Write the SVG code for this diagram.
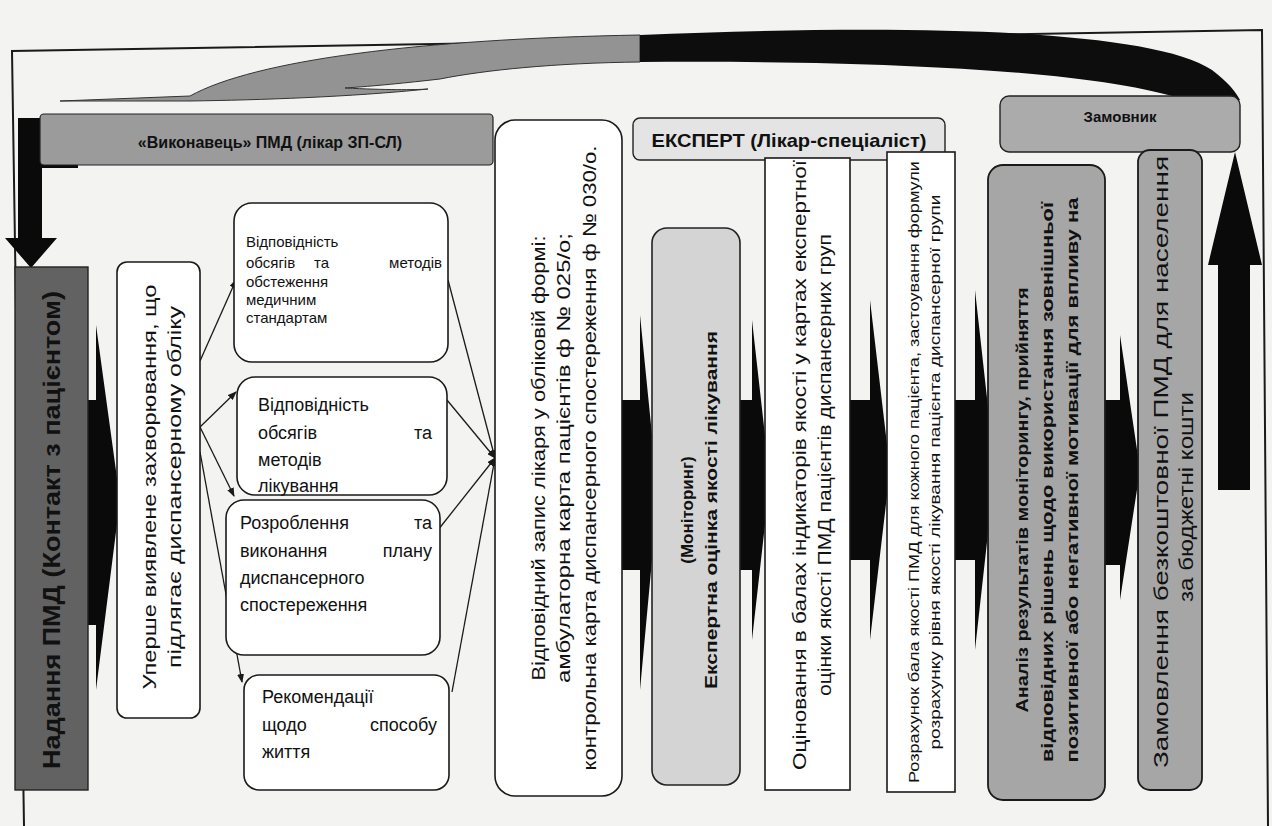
<svg xmlns="http://www.w3.org/2000/svg" width="1272" height="826" viewBox="0 0 1272 826">
<defs>
<style>
.t{font-family:"Liberation Sans",Arial,sans-serif;fill:#111}
.b{font-weight:bold}
.box{fill:#fff;stroke:#1a1a1a;stroke-width:1.6}
.gbox{fill:#a6a6a6;stroke:#1a1a1a;stroke-width:1.8}
.arr{fill:#0a0a0a}
.ln{stroke:#1a1a1a;stroke-width:1.3;fill:none;marker-end:url(#ah)}
</style>
<marker id="ah" markerWidth="9" markerHeight="7" refX="8" refY="3.5" orient="auto" markerUnits="userSpaceOnUse"><path d="M0,0 L9,3.5 L0,7 Z" fill="#1a1a1a"/></marker>
</defs>
<rect width="1272" height="826" fill="#f3f3f1"/>
<polyline points="24,826 12,51 1262,30 1268,826" fill="none" stroke="#1a1a1a" stroke-width="2"/>

<g id="top-swoosh">
<path d="M60,101 L190,96 C255,60 420,39 640,35 L640,62 C555,63 485,70 440,79 C405,83 375,86 345,88 C385,90 415,90 428,89 C350,97 260,100 190,101 Z" fill="#939393" stroke="#333" stroke-width="1"/>
<path d="M640,35 C900,24 1150,28 1212,70 C1228,82 1236,92 1240,100 L1185,100 C1100,72 900,60 640,62 Z" fill="#0d0d0d"/>
</g>

<g id="connectors">
<path class="arr" d="M18,118 L78,118 L78,168 L42,168 L42,238 L57,238 L31,268 L5,238 L18,238 Z"/>
<path class="arr" d="M88,400 L96,400 L96,325 L120,500 L96,690 L96,625 L88,625 Z"/>
<path class="arr" d="M622,400 L640,400 L640,315 L658,495 L640,690 L640,570 L622,570 Z"/>
<path class="arr" d="M738,400 L752,400 L752,320 L770,480 L752,640 L752,570 L738,570 Z"/>
<path class="arr" d="M850,400 L870,400 L870,300 L890,470 L870,640 L870,560 L850,560 Z"/>
<path class="arr" d="M955,400 L975,400 L975,290 L995,470 L975,650 L975,560 L955,560 Z"/>
<path class="arr" d="M1105,400 L1120,400 L1120,335 L1140,470 L1120,600 L1120,565 L1105,565 Z"/>
<path class="arr" d="M1218,490 L1218,265 L1208,265 L1235,152 L1262,265 L1250,265 L1250,490 Z"/>
<line class="ln" x1="200" y1="361" x2="236" y2="280"/>
<line class="ln" x1="200" y1="427" x2="236" y2="392"/>
<line class="ln" x1="200" y1="427" x2="234" y2="496"/>
<line class="ln" x1="200" y1="452" x2="242" y2="682"/>
<line class="ln" x1="448" y1="280" x2="495" y2="458"/>
<line class="ln" x1="447" y1="400" x2="495" y2="458"/>
<line class="ln" x1="438" y1="530" x2="495" y2="458"/>
<line class="ln" x1="452" y1="692" x2="495" y2="458"/>
</g>

<g id="vykonavets">
<rect x="40" y="114" width="453" height="51" rx="4" fill="#9b9b9b" stroke="#222" stroke-width="1.2"/>
<text class="t b" x="270" y="148" font-size="16" text-anchor="middle">«Виконавець» ПМД (лікар ЗП-СЛ)</text>
</g>
<g id="ekspert">
<rect x="633" y="118" width="312" height="42" rx="7" fill="#e4e4e4" stroke="#222" stroke-width="1.4"/>
<text class="t b" x="789" y="147" font-size="19" text-anchor="middle" textLength="275" lengthAdjust="spacingAndGlyphs">ЕКСПЕРТ (Лікар-спеціаліст)</text>
</g>
<g id="zamovnyk">
<rect x="1000" y="96" width="240" height="56" rx="9" fill="#ababab" stroke="#222" stroke-width="1.4"/>
<text class="t b" x="1120" y="122" font-size="15" text-anchor="middle">Замовник</text>
</g>

<g id="nadannia">
<rect x="15" y="267" width="73" height="523" fill="#626262" stroke="#222" stroke-width="1.4"/>
<text class="t b" transform="translate(60,530) rotate(-90)" font-size="23" text-anchor="middle" textLength="478" lengthAdjust="spacingAndGlyphs" fill="#0a0a0a">Надання ПМД (Контакт з пацієнтом)</text>
</g>

<g id="upershe">
<rect class="box" x="117" y="262" width="83" height="456" rx="10"/>
<text class="t" transform="translate(156,487) rotate(-90)" font-size="19" text-anchor="middle" textLength="405" lengthAdjust="spacingAndGlyphs">Уперше виявлене захворювання, що</text>
<text class="t" transform="translate(181,487) rotate(-90)" font-size="19" text-anchor="middle" textLength="362" lengthAdjust="spacingAndGlyphs">підлягає диспансерному обліку</text>
</g>

<g id="box1">
<rect class="box" x="234" y="203" width="214" height="159" rx="18"/>
<text class="t" font-size="15"><tspan x="246" y="247">Відповідність</tspan><tspan x="246" y="268">обсягів</tspan><tspan x="314" y="268">та</tspan><tspan x="442" y="268" text-anchor="end">методів</tspan><tspan x="246" y="287">обстеження</tspan><tspan x="246" y="305">медичним</tspan><tspan x="246" y="323">стандартам</tspan></text>
</g>
<g id="box2">
<rect class="box" x="237" y="377" width="210" height="118" rx="18"/>
<text class="t" font-size="18"><tspan x="258" y="411">Відповідність</tspan><tspan x="258" y="439">обсягів</tspan><tspan x="432" y="439" text-anchor="end">та</tspan><tspan x="258" y="466">методів</tspan><tspan x="258" y="492">лікування</tspan></text>
</g>
<g id="box3">
<rect class="box" x="226" y="500" width="214" height="155" rx="18"/>
<text class="t" font-size="18"><tspan x="240" y="529">Розроблення</tspan><tspan x="432" y="529" text-anchor="end">та</tspan><tspan x="240" y="557">виконання</tspan><tspan x="432" y="557" text-anchor="end">плану</tspan><tspan x="240" y="584">диспансерного</tspan><tspan x="240" y="611">спостереження</tspan></text>
</g>
<g id="box4">
<rect class="box" x="244" y="675" width="205" height="115" rx="15"/>
<text class="t" font-size="18"><tspan x="262" y="703">Рекомендації</tspan><tspan x="262" y="731">щодо</tspan><tspan x="437" y="731" text-anchor="end">способу</tspan><tspan x="262" y="758">життя</tspan></text>
</g>

<g id="zapys">
<rect class="box" x="495" y="120" width="127" height="676" rx="20"/>
<text class="t" transform="translate(545,458) rotate(-90)" font-size="19" text-anchor="middle" textLength="445" lengthAdjust="spacingAndGlyphs">Відповідний запис лікаря у обліковій формі:</text>
<text class="t" transform="translate(570,458) rotate(-90)" font-size="19" text-anchor="middle" textLength="450" lengthAdjust="spacingAndGlyphs">амбулаторна карта пацієнтів ф № 025/о;</text>
<text class="t" transform="translate(596,458) rotate(-90)" font-size="19" text-anchor="middle" textLength="625" lengthAdjust="spacingAndGlyphs">контрольна карта диспансерного спостереження ф № 030/о.</text>
</g>

<g id="monitoring">
<rect x="652" y="228" width="88" height="557" rx="15" fill="#d4d4d4" stroke="#222" stroke-width="1.6"/>
<text class="t b" transform="translate(693,510) rotate(-90)" font-size="17" text-anchor="middle">(Моніторинг)</text>
<text class="t b" transform="translate(717,510) rotate(-90)" font-size="17" text-anchor="middle" textLength="358" lengthAdjust="spacingAndGlyphs">Експертна оцінка якості лікування</text>
</g>

<g id="otsinovannia">
<rect class="box" x="765" y="158" width="85" height="632"/>
<text class="t" transform="translate(806,465) rotate(-90)" font-size="19" text-anchor="middle" textLength="610" lengthAdjust="spacingAndGlyphs">Оціновання в балах індикаторів якості у картах експертної</text>
<text class="t" transform="translate(831,465) rotate(-90)" font-size="19" text-anchor="middle" textLength="462" lengthAdjust="spacingAndGlyphs">оцінки якості ПМД пацієнтів диспансерних груп</text>
</g>

<g id="rozrakhunok">
<rect class="box" x="887" y="152" width="68" height="640"/>
<text class="t" transform="translate(919,472) rotate(-90)" font-size="14" text-anchor="middle" textLength="622" lengthAdjust="spacingAndGlyphs">Розрахунок бала якості ПМД для кожного пацієнта, застоування формули</text>
<text class="t" transform="translate(940,472) rotate(-90)" font-size="14" text-anchor="middle" textLength="555" lengthAdjust="spacingAndGlyphs">розрахунку рівня якості лікування пацієнта диспансерної групи</text>
</g>

<g id="analiz">
<rect class="gbox" x="988" y="165" width="117" height="635" rx="15"/>
<text class="t b" transform="translate(1028,500) rotate(-90)" font-size="16" text-anchor="middle" textLength="425" lengthAdjust="spacingAndGlyphs">Аналіз результатів моніторингу, прийняття</text>
<text class="t b" transform="translate(1053,482) rotate(-90)" font-size="16" text-anchor="middle" textLength="560" lengthAdjust="spacingAndGlyphs">відповідних рішень щодо використання зовнішньої</text>
<text class="t b" transform="translate(1078,480) rotate(-90)" font-size="16" text-anchor="middle" textLength="565" lengthAdjust="spacingAndGlyphs">позитивної або негативної мотивації для впливу на</text>
</g>

<g id="zamovlennia">
<rect class="gbox" x="1138" y="150" width="64" height="640" rx="12"/>
<text class="t" transform="translate(1168,462) rotate(-90)" font-size="20" text-anchor="middle" textLength="612" lengthAdjust="spacingAndGlyphs">Замовлення безкоштовної ПМД для населення</text>
<text class="t" transform="translate(1193,497) rotate(-90)" font-size="20" text-anchor="middle" textLength="210" lengthAdjust="spacingAndGlyphs">за бюджетні кошти</text>
</g>
</svg>
